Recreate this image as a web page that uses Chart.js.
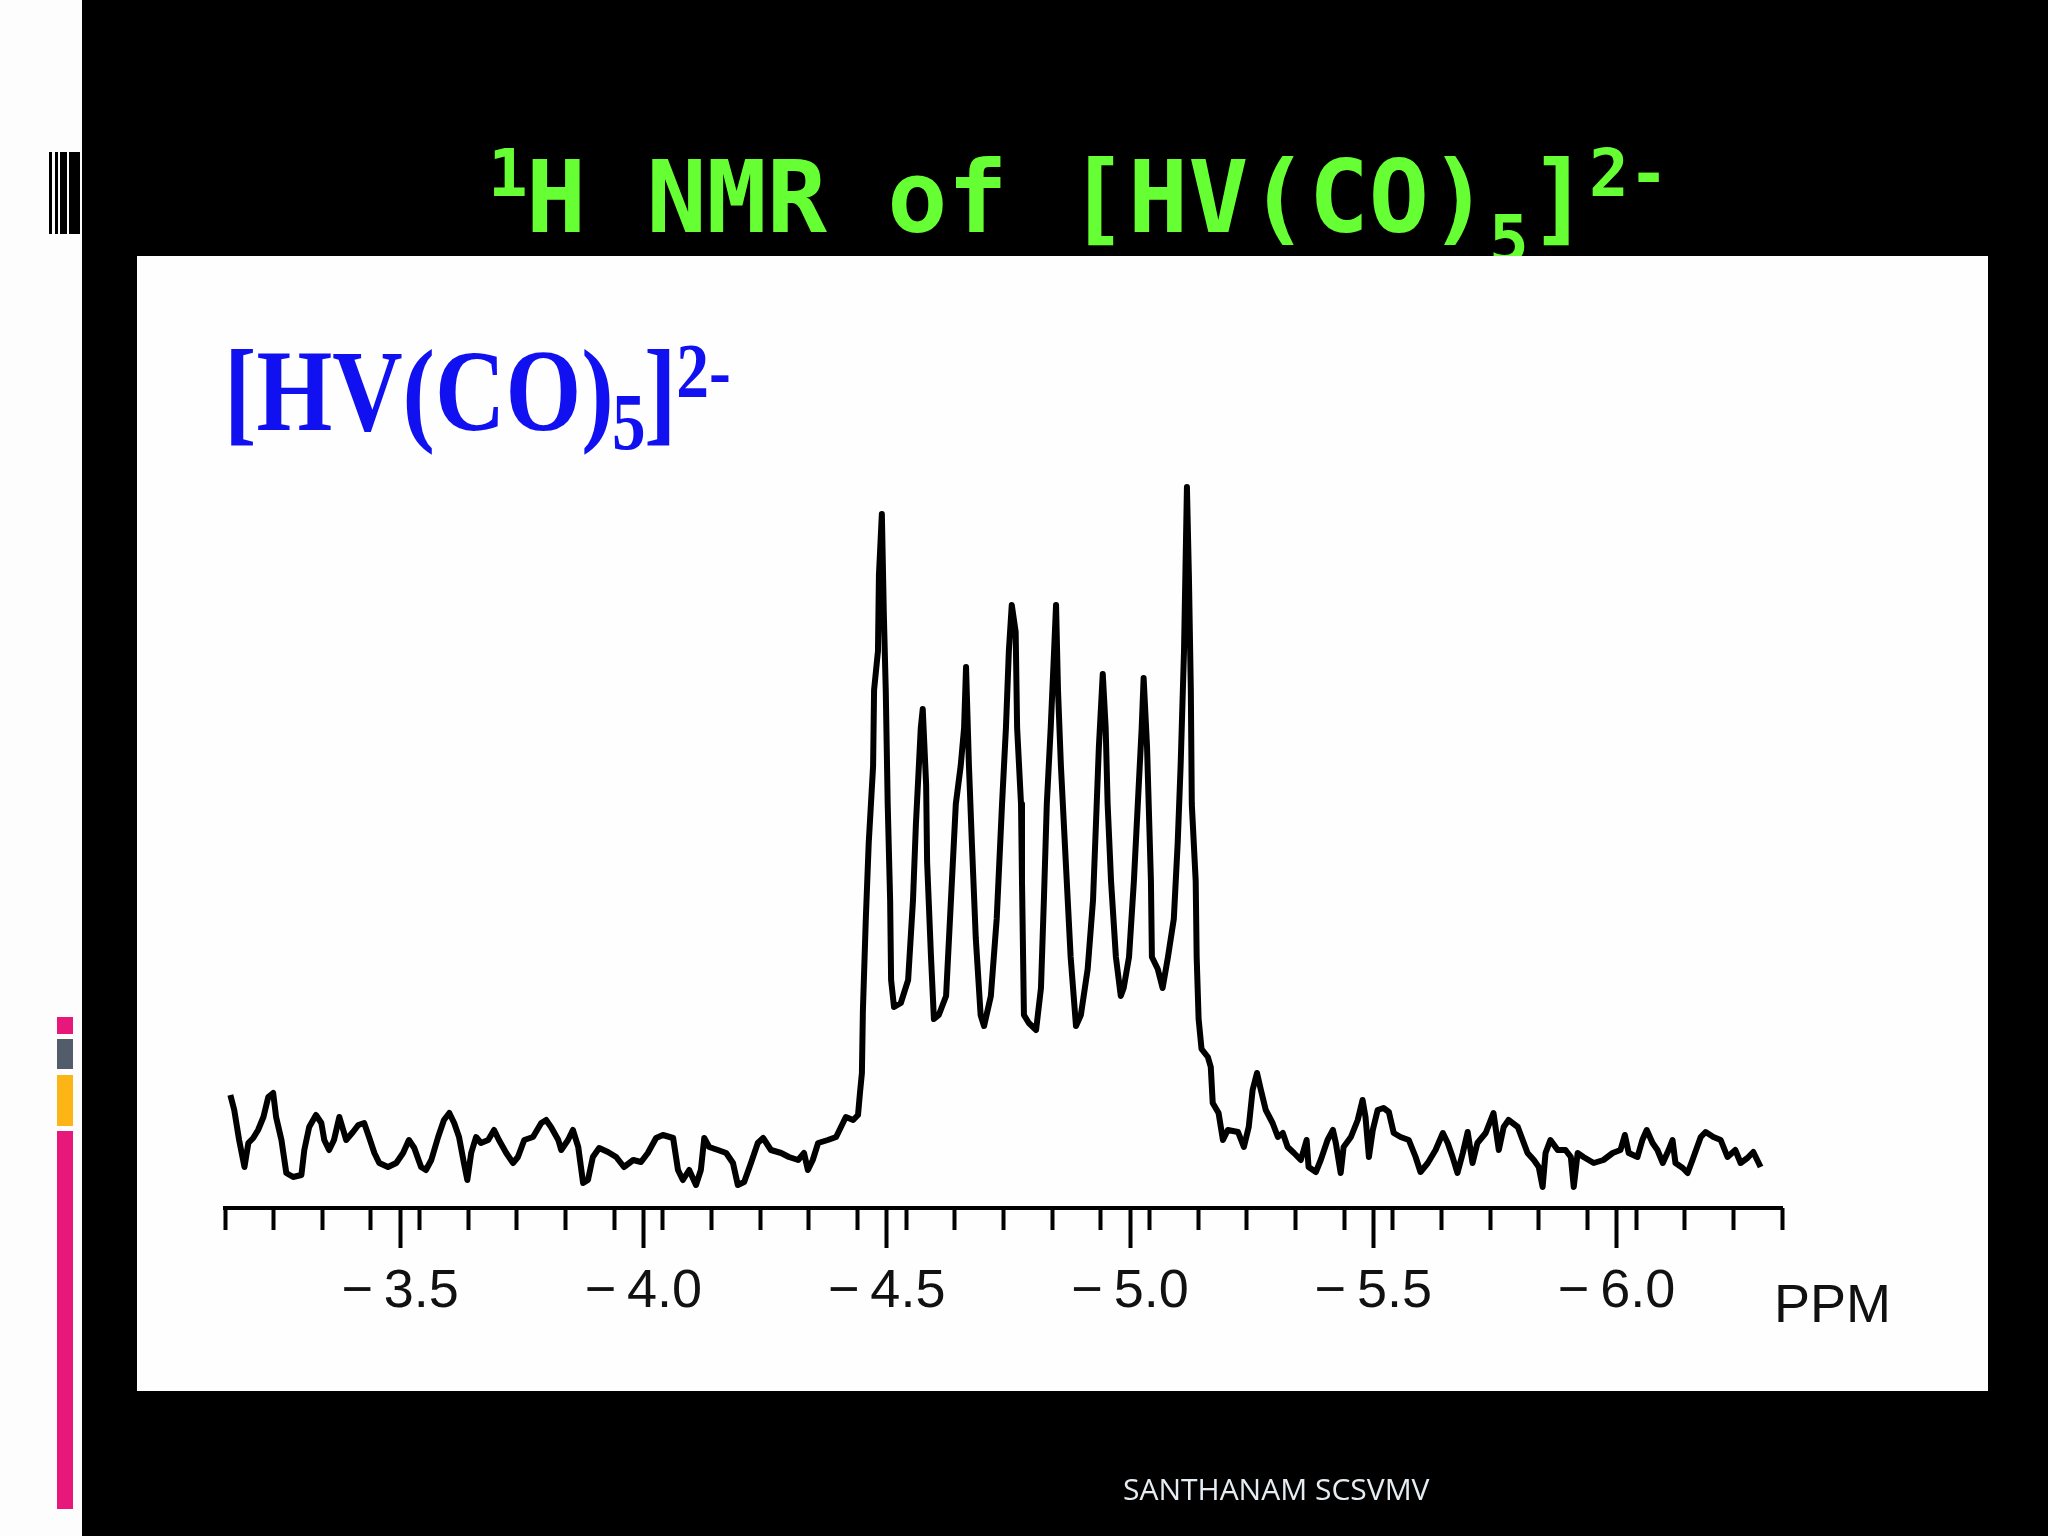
<!DOCTYPE html>
<html>
<head>
<meta charset="utf-8">
<script src="https://cdn.jsdelivr.net/npm/chart.js@4.4.1/dist/chart.umd.min.js"></script>
<style>
  html, body { margin: 0; padding: 0; background: #000; }
  canvas { display: block; }
</style>
</head>
<body>
<canvas id="nmr" width="2048" height="1536"></canvas>
<script>
// chemical shift (ppm) and signal height
var shiftPpm = [
  -3.151,-3.159,-3.169,-3.180,-3.188,-3.198,-3.208,-3.219,-3.229,-3.239,-3.245,-3.256,-3.266,-3.280,-3.297,-3.303,-3.313,-3.327,-3.338,-3.344,
  -3.354,-3.364,-3.375,-3.383,-3.389,-3.403,-3.414,-3.426,-3.436,-3.447,-3.457,-3.475,-3.492,-3.506,-3.518,-3.529,-3.543,-3.553,-3.564,-3.578,
  -3.590,-3.601,-3.611,-3.621,-3.631,-3.638,-3.646,-3.656,-3.666,-3.681,-3.693,-3.703,-3.718,-3.732,-3.742,-3.755,-3.773,-3.790,-3.800,-3.810,
  -3.825,-3.831,-3.845,-3.855,-3.866,-3.876,-3.886,-3.896,-3.909,-3.927,-3.944,-3.960,-3.979,-3.995,-4.009,-4.026,-4.040,-4.061,-4.071,-4.081,
  -4.094,-4.108,-4.118,-4.125,-4.135,-4.153,-4.170,-4.184,-4.194,-4.207,-4.221,-4.235,-4.246,-4.262,-4.283,-4.299,-4.318,-4.330,-4.338,-4.348,
  -4.359,-4.379,-4.396,-4.406,-4.416,-4.431,-4.441,-4.445,-4.449,
  -4.451,-4.457,-4.463,-4.472,-4.474,-4.482,-4.484,-4.490,-4.494,-4.498,-4.502,-4.507,-4.509,-4.515,-4.529,-4.544,-4.554,-4.560,-4.570,-4.574,
  -4.581,-4.583,-4.591,-4.597,-4.607,-4.622,-4.632,-4.642,-4.652,-4.659,-4.663,-4.669,-4.675,-4.683,-4.693,-4.700,-4.714,-4.726,-4.737,-4.745,
  -4.751,-4.757,-4.765,-4.768,-4.776,-4.778,-4.782,-4.792,-4.807,-4.817,-4.823,-4.829,-4.837,-4.844,-4.848,-4.852,-4.858,-4.868,-4.878,-4.889,
  -4.899,-4.913,-4.924,-4.930,-4.936,-4.944,-4.950,-4.954,-4.961,-4.971,-4.981,-4.987,-4.998,-5.008,-5.018,-5.024,-5.028,-5.035,-5.043,-5.045,
  -5.057,-5.067,-5.078,-5.090,-5.098,-5.104,-5.111,-5.117,-5.121,-5.125,-5.127,-5.135,-5.137,-5.141,-5.147,
  -5.160,-5.166,-5.170,-5.182,-5.191,-5.201,-5.222,-5.234,-5.244,-5.252,-5.261,-5.269,-5.279,-5.293,-5.304,-5.314,-5.324,-5.337,-5.351,-5.363,
  -5.367,-5.382,-5.392,-5.406,-5.417,-5.423,-5.433,-5.439,-5.454,-5.468,-5.478,-5.484,-5.491,-5.499,-5.509,-5.521,-5.532,-5.542,-5.556,-5.573,
  -5.587,-5.597,-5.612,-5.628,-5.643,-5.653,-5.663,-5.673,-5.684,-5.694,-5.704,-5.714,-5.731,-5.747,-5.758,-5.768,-5.778,-5.797,-5.807,-5.817,
  -5.830,-5.840,-5.848,-5.854,-5.864,-5.879,-5.895,-5.906,-5.912,-5.920,-5.932,-5.953,-5.973,-5.992,-6.008,-6.017,-6.025,-6.043,-6.053,-6.062,
  -6.074,-6.084,-6.095,-6.107,-6.115,-6.121,-6.136,-6.146,-6.156,-6.173,-6.183,-6.199,-6.214,-6.228,-6.244,-6.255,-6.269,-6.281,-6.296
];
var intensity = [
  113,98,68,41,65,70,78,91,111,115,91,68,35,31,33,58,81,93,85,68,
  58,68,91,78,68,76,83,85,71,55,45,41,45,55,68,60,41,38,48,71,
  88,95,85,71,45,28,55,71,65,68,78,68,55,45,51,68,71,85,88,81,
  68,58,68,78,61,25,28,51,60,56,51,41,48,46,55,70,73,70,38,28,
  38,23,38,70,61,58,55,45,23,26,45,65,70,58,55,51,48,55,38,48,
  65,68,71,81,91,88,93,115,135,
  197,289,365,442,518,557,633,694,595,518,404,308,228,201,205,228,308,384,480,499,
  423,346,251,189,193,212,308,404,442,480,541,442,365,270,193,182,212,289,404,480,
  557,603,576,480,404,327,193,185,178,220,308,404,480,557,603,518,442,346,251,182,
  193,239,308,384,461,534,480,404,327,251,212,220,251,327,423,480,530,461,327,251,
  239,220,251,289,365,442,557,721,633,518,404,327,251,189,159,
  151,141,105,95,68,78,76,61,81,118,135,118,98,85,71,75,61,55,48,68,
  41,36,48,68,78,65,35,61,71,88,108,91,51,78,98,100,96,75,71,68,
  51,36,45,58,75,65,51,35,55,76,45,65,75,95,58,81,88,81,68,55,
  48,41,21,55,68,58,58,51,21,55,51,45,48,55,58,73,55,51,68,78,
  65,58,45,58,68,45,40,35,48,71,76,71,68,51,58,45,50,56,41
];
var axisMin = -6.34, axisMax = -3.14;   // ppm at right / left end of the baseline
var majorStep = 0.5, minorStep = 0.1;
var axisUnit = 'PPM';

var points = shiftPpm.map(function(v, i) { return {x: v, y: intensity[i]}; });

function fmtPpm(v) {
  return '\u2212\u2009' + Math.abs(v).toFixed(1);
}

// slide background, headings and the decorations on the left strip
var slide = {
  id: 'slide',
  beforeDraw: function(chart) {
    var ctx = chart.ctx;
    ctx.save();
    ctx.fillStyle = '#fdfdfd';
    ctx.fillRect(0, 0, 82, 1536);
    ctx.fillStyle = '#000';
    ctx.fillRect(82, 0, 1966, 1536);

    // barcode block
    ctx.fillStyle = '#000';
    [[49, 3], [55, 3], [60, 7], [69, 11]].forEach(function(b) {
      ctx.fillRect(b[0], 152, b[1], 82);
    });
    // coloured bars
    ctx.fillStyle = '#e8177a'; ctx.fillRect(57, 1017, 16, 17);
    ctx.fillStyle = '#525c6a'; ctx.fillRect(57, 1039, 16, 30);
    ctx.fillStyle = '#fdb515'; ctx.fillRect(57, 1075, 16, 51);
    ctx.fillStyle = '#e8177a'; ctx.fillRect(57, 1131, 16, 378);

    // green title
    ctx.fillStyle = '#66ff33';
    ctx.textBaseline = 'alphabetic';
    ctx.font = 'bold 66px "DejaVu Sans Mono"';
    ctx.fillText('1', 488, 196);
    ctx.font = 'bold 100px "DejaVu Sans Mono"';
    ctx.fillText('H NMR of [HV(CO)', 526, 232);
    ctx.font = 'bold 66px "DejaVu Sans Mono"';
    ctx.fillText('5', 1489, 262);
    ctx.font = 'bold 100px "DejaVu Sans Mono"';
    ctx.fillText(']', 1529, 232);
    ctx.font = 'bold 66px "DejaVu Sans Mono"';
    ctx.fillText('2-', 1589, 196);

    // white picture panel
    ctx.fillStyle = '#fefefe';
    ctx.fillRect(137, 256, 1851, 1135);

    // blue formula, squeezed like the scanned figure
    ctx.fillStyle = '#1010f0';
    ctx.save();
    ctx.translate(224, 0);
    ctx.scale(0.84, 1);
    ctx.font = 'bold 116px "Liberation Serif"';
    var w = ctx.measureText('[HV(CO)').width;
    ctx.fillText('[HV(CO)', 0, 430);
    ctx.font = 'bold 80px "Liberation Serif"';
    ctx.fillText('5', w - 2, 449);
    var w5 = ctx.measureText('5').width;
    ctx.font = 'bold 116px "Liberation Serif"';
    ctx.fillText(']', w + w5 - 4, 430);
    var wb = ctx.measureText(']').width;
    ctx.font = 'bold 78px "Liberation Serif"';
    ctx.fillText('2-', w + w5 + wb - 4, 397);
    ctx.restore();

    // footer
    ctx.fillStyle = '#e6edf2';
    ctx.font = '30px "Open Sans"';
    ctx.fillText('SANTHANAM SCSVMV', 1123, 1500);
    ctx.restore();
  },
  afterDraw: function(chart) {
    var ctx = chart.ctx;
    ctx.save();
    ctx.fillStyle = '#111';
    ctx.font = '54px "Liberation Sans"';
    ctx.textBaseline = 'alphabetic';
    ctx.fillText(axisUnit, 1774, 1322);
    ctx.restore();
  }
};

var ChartNmr = new Chart(document.getElementById('nmr'), {
  type: 'line',
  data: {
    datasets: [{
      label: '1H NMR',
      data: points,
      borderColor: '#000',
      borderWidth: 6,
      borderJoinStyle: 'round',
      pointRadius: 0,
      tension: 0,
      fill: false
    }]
  },
  options: {
    responsive: false,
    devicePixelRatio: 1,
    animation: false,
    events: [],
    layout: { padding: { left: 225, right: 266, top: 400, bottom: 208 } },
    plugins: { legend: { display: false }, tooltip: { enabled: false } },
    scales: {
      x: {
        type: 'linear',
        reverse: true,
        min: axisMin,
        max: axisMax,
        afterFit: function(scale) { scale.height = 120; },
        border: { display: true, color: '#000', width: 4 },
        grid: { drawOnChartArea: false, drawTicks: true, tickLength: 40, tickColor: '#000', tickWidth: 4 },
        ticks: {
          stepSize: majorStep,
          includeBounds: false,
          autoSkip: false,
          maxRotation: 0,
          padding: 12,
          color: '#111',
          font: { family: 'Liberation Sans', size: 54 },
          callback: function(v) { return fmtPpm(v); }
        }
      },
      xMinor: {
        type: 'linear',
        axis: 'x',
        position: { y: 0 },
        reverse: true,
        min: axisMin,
        max: axisMax,
        border: { display: false },
        grid: { drawOnChartArea: false, drawTicks: true, tickLength: 22, tickColor: '#000', tickWidth: 4 },
        ticks: { stepSize: minorStep, includeBounds: false, autoSkip: false, display: false }
      },
      y: {
        display: false,
        min: 0,
        max: 808
      }
    }
  },
  plugins: [slide]
});
</script>
</body>
</html>
